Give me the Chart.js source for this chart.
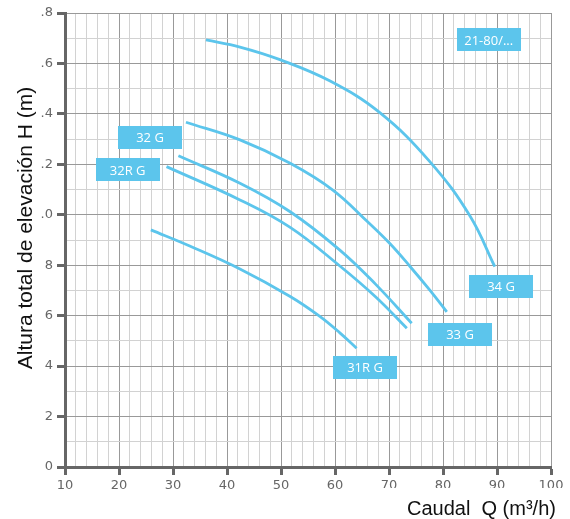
<!DOCTYPE html>
<html>
<head>
<meta charset="utf-8">
<script src="https://cdn.jsdelivr.net/npm/chart.js@4.4.0/dist/chart.umd.min.js"></script>
<style>
html,body{margin:0;padding:0;background:#fff;}
#wrap{width:570px;height:519px;position:relative;}
</style>
</head>
<body>
<div id="wrap"><canvas id="c" width="570" height="519"></canvas></div>
<script>
// ---- Data ----
const xTickValues = [10,20,30,40,50,60,70,80,90,100];
const xTickLabels = ['10','20','30','40','50','60','70','80','90','100'];
const yTickValues = [0,2,4,6,8,10,12,14,16,18];
const yTickLabels = ['0','2','4','6','8','.0','.2','.4','.6','.8'];

const qTop = [36.1, 42.4, 49.8, 59.1, 68.3, 77.6, 85.0, 89.6];
const hTop = [16.93, 16.65, 16.15, 15.3, 14.05, 12.1, 9.95, 7.94];

const qA = [32.4, 42.4, 51.7, 59.6, 65.9, 70.2, 73.9, 77.6, 80.7];
const hA = [13.67, 12.97, 12.04, 10.98, 9.75, 8.85, 7.95, 7.0, 6.15];

const qB = [31.0, 42.4, 51.7, 60.9, 67.5, 74.2];
const hB = [12.34, 11.25, 10.12, 8.6, 7.25, 5.7];

const qC = [28.8, 42.4, 51.7, 60.9, 67.5, 73.3];
const hC = [11.91, 10.59, 9.5, 7.97, 6.75, 5.5];

const qD = [25.9, 33.1, 42.4, 51.7, 57.0, 60.9, 64.0];
const hD = [9.40, 8.76, 7.85, 6.76, 6.0, 5.32, 4.71];

const labelTexts = ['21-80/...', '32 G', '32R G', '31R G', '33 G', '34 G'];
const labelQ = [88.46, 25.74, 21.61, 65.56, 83.15, 90.74];
const labelH = [16.93, 13.06, 11.78, 3.94, 5.27, 7.15];

const xTitle = 'Caudal  Q (m³/h)';
const yTitle = 'Altura total de elevación H (m)';

// ---- Chart ----
const BLUE = '#5CC5EC';
function pts(xs, ys){ return xs.map((x,i)=>({x:x, y:ys[i]})); }
const series = [[qTop,hTop],[qA,hA],[qB,hB],[qC,hC],[qD,hD]];
const datasets = series.map(s => ({
  data: pts(s[0], s[1]),
  showLine: true,
  borderColor: BLUE,
  borderWidth: 2.8,
  pointRadius: 0,
  fill: false,
  tension: 0.4
}));

const decor = {
  id: 'decor',
  afterDatasetsDraw(chart){
    const ctx = chart.ctx;
    const xs = chart.scales.x, ys = chart.scales.y;
    ctx.save();
    ctx.font = '13px "Open Sans", sans-serif';
    ctx.textAlign = 'center';
    ctx.textBaseline = 'middle';
    labelTexts.forEach((t,i)=>{
      const cx = xs.getPixelForValue(labelQ[i]);
      const cy = ys.getPixelForValue(labelH[i]);
      ctx.fillStyle = BLUE;
      ctx.fillRect(Math.round(cx-32), Math.round(cy-11.5), 64, 23);
      ctx.fillStyle = '#ffffff';
      ctx.fillText(t, cx, cy+1);
    });
    ctx.restore();
  },
  afterDraw(chart){
    const ctx = chart.ctx;
    ctx.save();
    ctx.fillStyle = '#ffffff';
    ctx.fillRect(370, 488, 200, 12);
    ctx.fillStyle = '#111';
    ctx.font = '20px "Liberation Sans", Arial, sans-serif';
    ctx.textAlign = 'left';
    ctx.textBaseline = 'alphabetic';
    ctx.fillText(xTitle, 407, 515);
    ctx.translate(32, 228);
    ctx.rotate(-Math.PI/2);
    ctx.textAlign = 'center';
    ctx.font = '21px "Liberation Sans", Arial, sans-serif';
    ctx.fillText(yTitle, 0, 0);
    ctx.restore();
  }
};

new Chart(document.getElementById('c'), {
  type: 'scatter',
  data: { datasets },
  options: {
    responsive: false,
    animation: false,
    devicePixelRatio: 1,
    layout: { padding: { top: 13, right: 19, left: 0, bottom: 0 } },
    plugins: { legend: { display: false }, tooltip: { enabled: false } },
    scales: {
      x: {
        type: 'linear', min: 10, max: 100,
        afterFit: s => { s.height = 52; },
        border: { display: true, color: '#666', width: 3 },
        grid: {
          color: c => (c.tick && c.tick.value % 10 === 0) ? '#999' : '#d2d2d2',
          lineWidth: 1,
          drawTicks: true,
          tickLength: 8,
          tickWidth: 3,
          tickColor: c => (c.tick && c.tick.value % 10 === 0) ? '#666' : 'rgba(0,0,0,0)'
        },
        ticks: {
          stepSize: 2, autoSkip: false, maxRotation: 0,
          padding: 3,
          color: '#666',
          font: { family: '"DejaVu Sans", sans-serif', size: 13 },
          callback: v => { const i = xTickValues.indexOf(v); return i >= 0 ? xTickLabels[i] : ''; }
        }
      },
      y: {
        type: 'linear', min: 0, max: 18,
        afterFit: s => { s.width = 65; },
        border: { display: true, color: '#666', width: 3 },
        grid: {
          color: c => (c.tick && c.tick.value % 2 === 0) ? '#999' : '#d2d2d2',
          lineWidth: 1,
          drawTicks: true,
          tickLength: 8,
          tickWidth: 3,
          tickColor: c => (c.tick && c.tick.value % 2 === 0) ? '#666' : 'rgba(0,0,0,0)'
        },
        ticks: {
          stepSize: 1, autoSkip: false,
          padding: 4,
          color: '#666',
          font: { family: '"DejaVu Sans", sans-serif', size: 13 },
          callback: v => { const i = yTickValues.indexOf(v); return i >= 0 ? yTickLabels[i] : ''; }
        }
      }
    }
  },
  plugins: [decor]
});
</script>
</body>
</html>
